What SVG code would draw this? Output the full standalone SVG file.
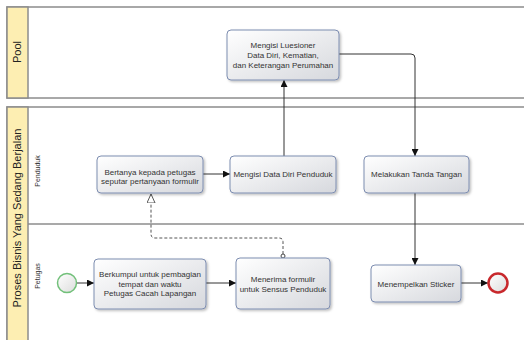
<svg xmlns="http://www.w3.org/2000/svg" width="524" height="340" viewBox="0 0 524 340">
<style>
.pool{fill:#ffffff;stroke:#8c8c8c;stroke-width:1.5}
.hdr{fill:#fdeeb2;stroke:#8c8c8c;stroke-width:1.5}
.lane{stroke:#8c8c8c;stroke-width:1.5;fill:none}
.task{fill:url(#tg);stroke:#7d8db0;stroke-width:1;filter:url(#sh)}
.t{font-family:"Liberation Sans",Arial,sans-serif;font-size:8px;fill:#333;text-anchor:middle}
.pt{font-family:"Liberation Sans",Arial,sans-serif;font-size:11px;fill:#222;text-anchor:middle}
.lt{font-family:"Liberation Sans",Arial,sans-serif;font-size:7px;fill:#333;text-anchor:middle}
.c{fill:none;stroke:#333;stroke-width:1}
.d{fill:none;stroke:#555;stroke-width:1;stroke-dasharray:3,2}
</style>
<defs>
<linearGradient id="tg" x1="0" y1="0" x2="1" y2="1">
<stop offset="0" stop-color="#ffffff"/>
<stop offset="1" stop-color="#d6d8dd"/>
</linearGradient>
<linearGradient id="eg" x1="0" y1="0" x2="1" y2="1">
<stop offset="0" stop-color="#ffffff"/>
<stop offset="1" stop-color="#dcdcdc"/>
</linearGradient>
<filter id="sh" x="-10%" y="-10%" width="125%" height="130%">
<feDropShadow dx="1.5" dy="1.5" stdDeviation="1.2" flood-color="#000" flood-opacity="0.25"/>
</filter>
<marker id="a" viewBox="0 0 10 10" refX="10" refY="5" markerWidth="7" markerHeight="7" orient="auto" markerUnits="userSpaceOnUse">
<path d="M0,0 L10,5 L0,10 z" fill="#111"/>
</marker>
<marker id="h" viewBox="0 0 10 10" refX="10" refY="5" markerWidth="9" markerHeight="9" orient="auto" markerUnits="userSpaceOnUse">
<path d="M0,0.5 L10,5 L0,9.5 z" fill="#fff" stroke="#444" stroke-width="1"/>
</marker>
</defs>

<g id="pool1">
<rect class="pool" x="7" y="7" width="530" height="91"/>
<rect class="hdr" x="7" y="7" width="21" height="91"/>
<text class="pt" transform="translate(21,52) rotate(-90)">Pool</text>
</g>

<g id="pool2">
<rect class="pool" x="7" y="107" width="530" height="250"/>
<rect class="hdr" x="7" y="107" width="21" height="250"/>
<text class="pt" transform="translate(21,218) rotate(-90)">Proses Bisnis Yang Sedang Berjalan</text>
<line class="lane" x1="28" y1="224" x2="530" y2="224"/>
<text class="lt" transform="translate(39.5,171) rotate(-90)">Penduduk</text>
<text class="lt" transform="translate(39.5,276) rotate(-90)">Petugas</text>
</g>

<g id="connectors">
<line class="c" x1="77" y1="283" x2="94" y2="283" marker-end="url(#a)"/>
<line class="c" x1="206" y1="283" x2="236" y2="283" marker-end="url(#a)"/>
<path class="d" d="M283,254 V242 Q283,238 279,238 H155 Q151,238 151,234 V194" marker-end="url(#h)"/>
<circle cx="283" cy="256" r="2" fill="#fff" stroke="#444" stroke-width="1"/>
<line class="c" x1="203" y1="174" x2="230" y2="174" marker-end="url(#a)"/>
<line class="c" x1="284" y1="156" x2="284" y2="80" marker-end="url(#a)"/>
<path class="c" d="M339,54 H411 Q415,54 415,58 V156" marker-end="url(#a)"/>
<line class="c" x1="415" y1="193" x2="415" y2="265" marker-end="url(#a)"/>
<line class="c" x1="461" y1="283" x2="488" y2="283" marker-end="url(#a)"/>
</g>

<g id="start">
<circle cx="67" cy="283" r="9.5" fill="url(#eg)" stroke="#72c07a" stroke-width="1.5"/>
</g>

<g id="berkumpul">
<rect class="task" x="94" y="259" width="112" height="50" rx="4"/>
<text class="t" x="150" y="277">Berkumpul untuk pembagian</text>
<text class="t" x="150" y="286.5">tempat dan waktu</text>
<text class="t" x="150" y="296">Petugas Cacah Lapangan</text>
</g>

<g id="menerima">
<rect class="task" x="236" y="258" width="94" height="51" rx="4"/>
<text class="t" x="283" y="282">Menerima formulir</text>
<text class="t" x="283" y="292">untuk Sensus Penduduk</text>
</g>

<g id="bertanya">
<rect class="task" x="97" y="156" width="106" height="37" rx="4"/>
<text class="t" x="150" y="174.5">Bertanya kepada petugas</text>
<text class="t" x="150" y="183.5">seputar pertanyaan formulir</text>
</g>

<g id="mengisi-data">
<rect class="task" x="230" y="156" width="106" height="37" rx="4"/>
<text class="t" x="283" y="177">Mengisi Data Diri Penduduk</text>
</g>

<g id="mengisi-luesioner">
<rect class="task" x="227" y="30" width="112" height="50" rx="4"/>
<text class="t" x="283" y="48">Mengisi Luesioner</text>
<text class="t" x="283" y="57.5">Data Diri, Kematian,</text>
<text class="t" x="283" y="68">dan Keterangan Perumahan</text>
</g>

<g id="melakukan">
<rect class="task" x="364" y="156" width="105" height="37" rx="4"/>
<text class="t" x="416.5" y="177">Melakukan Tanda Tangan</text>
</g>

<g id="menempelkan">
<rect class="task" x="371" y="265" width="90" height="37" rx="4"/>
<text class="t" x="416" y="286.5">Menempelkan Sticker</text>
</g>

<g id="end">
<circle cx="498" cy="283" r="9.5" fill="url(#eg)" stroke="#c8282c" stroke-width="2.5"/>
</g>
</svg>
